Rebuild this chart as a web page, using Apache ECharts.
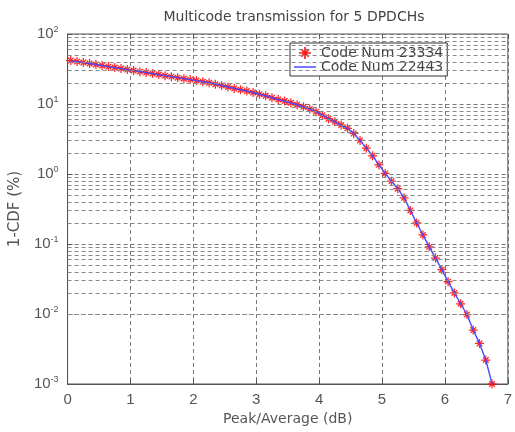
<!DOCTYPE html>
<html>
<head>
<meta charset="utf-8">
<script src="https://cdn.jsdelivr.net/npm/echarts@6/dist/echarts.min.js"></script>
<style>html,body{margin:0;padding:0;background:#fff;}#c{width:515px;height:432px;}</style>
</head>
<body>
<div id="c"></div>
<script>
// Peak/Average (dB) sample points
var xValues = [0.05,0.15,0.25,0.35,0.45,0.55,0.65,0.75,0.85,0.95,1.05,1.15,1.25,1.35,1.45,1.55,1.65,1.75,1.85,1.95,2.05,2.15,2.25,2.35,2.45,2.55,2.65,2.75,2.85,2.95,3.05,3.15,3.25,3.35,3.45,3.55,3.65,3.75,3.85,3.95,4.05,4.15,4.25,4.35,4.45,4.55,4.65,4.75,4.85,4.95,5.05,5.15,5.25,5.35,5.45,5.55,5.65,5.75,5.85,5.95,6.05,6.15,6.25,6.35,6.45,6.55,6.65,6.75];
// 1-CDF (%) for Code Num 23334 (red asterisks)
var code23334 = [41.7,40.4,39.1,37.8,36.6,35.4,34.2,33.1,32.1,31.0,30.0,29.0,28.1,27.2,26.3,25.4,24.6,23.8,23.0,22.3,21.6,20.8,20.1,19.2,18.4,17.5,16.7,16.0,15.3,14.6,13.8,13.1,12.3,11.6,11.0,10.4,9.75,9.12,8.51,7.76,6.92,6.17,5.56,5.01,4.50,3.80,3.02,2.34,1.82,1.35,1.02,0.79,0.617,0.457,0.302,0.200,0.135,0.091,0.063,0.043,0.029,0.020,0.014,0.0098,0.0059,0.0038,0.0022,0.0010];
// 1-CDF (%) for Code Num 22443 (blue line)
var code22443 = [41.5,40.3,39.0,37.8,36.6,35.4,34.2,33.1,32.0,31.0,30.0,29.0,28.1,27.2,26.3,25.4,24.6,23.8,23.0,22.3,21.6,20.8,20.1,19.2,18.4,17.5,16.7,16.0,15.3,14.6,13.8,13.1,12.3,11.6,11.0,10.4,9.75,9.12,8.51,7.76,6.92,6.17,5.56,5.01,4.50,3.80,3.02,2.34,1.82,1.35,1.02,0.79,0.617,0.457,0.302,0.200,0.135,0.091,0.063,0.043,0.029,0.020,0.014,0.0098,0.0059,0.0038,0.0022,0.0010];
var seriesNames = ['Code Num 23334', 'Code Num 22443'];
var xTicks = [0,1,2,3,4,5,6,7];
var decades = [0.001,0.01,0.1,1,10,100];
var minorMultipliers = [2,3,4,5,6,7,8,9];

var minorLines = [];
for (var d = 0; d < decades.length - 1; d++) {
  for (var m = 0; m < minorMultipliers.length; m++) {
    minorLines.push({yAxis: +(decades[d] * minorMultipliers[m]).toPrecision(3)});
  }
}
function pairs(ys) { return xValues.map(function (x, i) { return [x, ys[i]]; }); }

var star = 'path://M-0.7,-5L0.7,-5L0.7,5L-0.7,5Z M-5,-0.7L5,-0.7L5,0.7L-5,0.7Z M-3.6,-2.6L-2.6,-3.6L3.6,2.6L2.6,3.6Z M2.6,-3.6L3.6,-2.6L-2.6,3.6L-3.6,2.6Z';
var txt = '#555';
var font = 'Liberation Sans';
var wide = 'DejaVu Sans';

var chart = echarts.init(document.getElementById('c'), null, {renderer: 'canvas'});
chart.setOption({
  animation: false,
  backgroundColor: '#fff',
  title: {
    text: 'Multicode transmission for 5 DPDCHs',
    left: 289, top: 5, textAlign: 'center',
    textStyle: {fontFamily: wide, fontSize: 14, fontWeight: 'normal', color: '#444'}
  },
  grid: {left: 67, right: 3, top: 34, bottom: 48, show: true, borderColor: '#555', borderWidth: 1, backgroundColor: 'transparent'},
  legend: {
    left: 290, top: 43, orient: 'vertical',
    backgroundColor: '#fff', borderColor: '#333', borderWidth: 1,
    padding: [3, 4, 2, 4], itemGap: 0, itemWidth: 22, itemHeight: 12,
    textStyle: {fontFamily: wide, fontSize: 14, color: '#444'},
    data: [
      {name: seriesNames[0], icon: star, itemStyle: {color: '#ff0000'}},
      {name: seriesNames[1], icon: 'path://M0,0L22,0L22,1.6L0,1.6Z', itemStyle: {color: '#5555ff'}}
    ],
    symbolKeepAspect: true
  },
  xAxis: [{
    type: 'value', min: 0, max: 7, interval: 1,
    name: 'Peak/Average (dB)', nameLocation: 'middle', nameGap: 26,
    nameTextStyle: {fontFamily: wide, fontSize: 14, color: txt},
    axisLine: {show: true, lineStyle: {color: '#555'}},
    axisTick: {show: true, inside: true, length: 5, lineStyle: {color: '#555'}},
    axisLabel: {fontFamily: font, fontSize: 15, color: txt, margin: 8,
      formatter: function (v) { return xTicks.indexOf(v) >= 0 ? String(v) : ''; }},
    splitLine: {show: true, lineStyle: {color: '#777', type: [4, 3], width: 1}}
  }, {
    type: 'value', min: 0, max: 7, interval: 1, position: 'top',
    axisLine: {show: false}, axisLabel: {show: false}, splitLine: {show: false},
    axisTick: {show: true, inside: true, length: 5, lineStyle: {color: '#555'}}
  }],
  yAxis: {
    type: 'log', logBase: 10, min: 0.001, max: 100,
    name: '1-CDF (%)', nameLocation: 'middle', nameGap: 42,
    nameTextStyle: {fontFamily: wide, fontSize: 15, color: txt},
    axisLine: {show: true, lineStyle: {color: '#555'}},
    axisTick: {show: true, inside: true, length: 5, lineStyle: {color: '#555'}},
    axisLabel: {
      margin: 9, color: txt,
      formatter: function (v) { return '{b|10}{s|' + Math.round(Math.log10(v)) + '}'; },
      rich: {
        b: {fontFamily: font, fontSize: 15, color: txt},
        s: {fontFamily: font, fontSize: 9, color: txt, verticalAlign: 'bottom', padding: [0, 0, 9, 0]}
      }
    },
    splitLine: {show: true, lineStyle: {color: '#777', type: [4, 3], width: 1}}
  },
  series: [
    {
      name: 'minor-grid', type: 'line', data: [], z: 1, silent: true,
      markLine: {silent: true, symbol: 'none', label: {show: false},
        lineStyle: {color: '#888', type: [4, 3], width: 1}, data: minorLines, animation: false}
    },
    {
      name: seriesNames[0], type: 'scatter', data: pairs(code23334), z: 3,
      symbol: star, symbolSize: 9, itemStyle: {color: '#ff1010', opacity: 0.9}
    },
    {
      name: seriesNames[1], type: 'line', data: pairs(code22443), z: 4,
      symbol: 'none', lineStyle: {color: '#4a4aff', width: 1.4}, itemStyle: {color: '#5555ff'}
    }
  ]
});
</script>
</body>
</html>
